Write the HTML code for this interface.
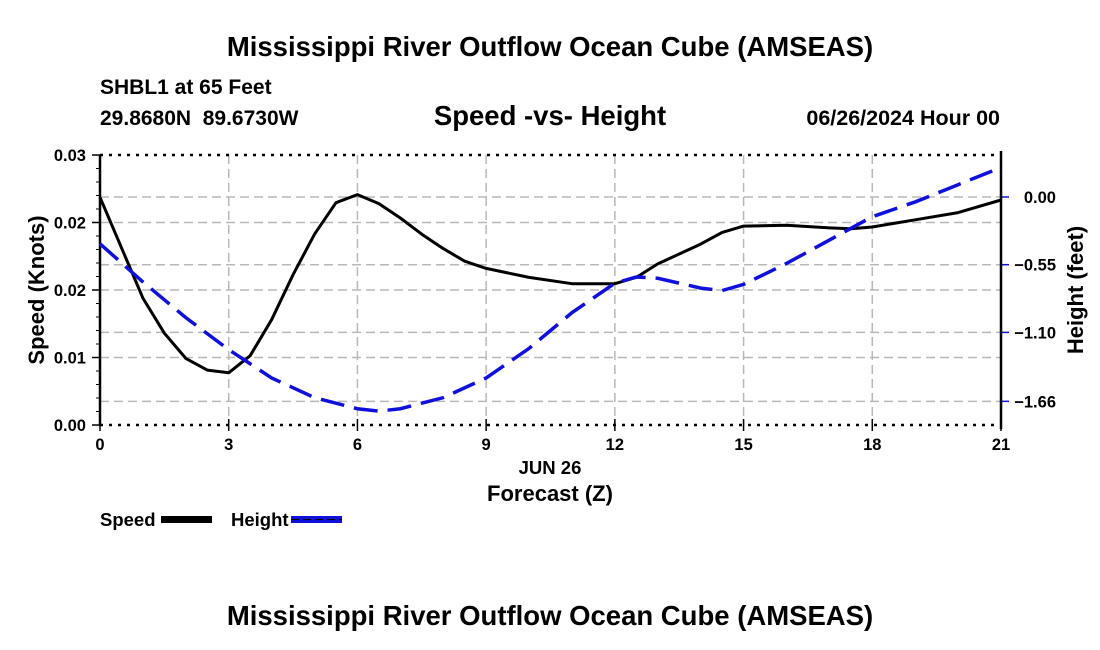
<!DOCTYPE html>
<html><head><meta charset="utf-8"><style>
body{margin:0;background:#fff;}
svg{display:block;font-family:"Liberation Sans",sans-serif;font-weight:bold;}
</style></head><body>
<svg id="chart" width="1100" height="650" viewBox="0 0 1100 650">
<text x="550" y="56" text-anchor="middle" font-size="27.5">Mississippi River Outflow Ocean Cube (AMSEAS)</text>
<text x="100" y="94" font-size="21">SHBL1 at 65 Feet</text>
<text x="100" y="125" font-size="21" xml:space="preserve">29.8680N  89.6730W</text>
<text x="550" y="125" text-anchor="middle" font-size="27.5">Speed -vs- Height</text>
<text x="1000" y="125" text-anchor="end" font-size="21.5">06/26/2024 Hour 00</text>
<g id="grid"></g>
<g id="axes"></g>
<g id="series"></g>
<text x="550" y="474" text-anchor="middle" font-size="18.5">JUN 26</text>
<text x="550" y="501" text-anchor="middle" font-size="22">Forecast (Z)</text>
<text transform="translate(44,290) rotate(-90)" text-anchor="middle" font-size="22">Speed (Knots)</text>
<text transform="translate(1083,290) rotate(-90)" text-anchor="middle" font-size="22">Height (feet)</text>
<g>
<text x="100" y="526" font-size="18.5">Speed</text>
<rect x="161" y="516" width="51" height="7" fill="#000"/>
</g>
<g>
<text x="231" y="526" font-size="18.5">Height</text>
<rect x="291" y="516" width="51" height="7" fill="#1010dd"/>
<line x1="291" y1="519.5" x2="342" y2="519.5" stroke="#000" stroke-width="1" stroke-dasharray="8,4"/>
</g>
<text x="550" y="625" text-anchor="middle" font-size="27.5">Mississippi River Outflow Ocean Cube (AMSEAS)</text>
</svg>
<script>
const speedHours=[0,0.5,1,1.5,2,2.5,3,3.5,4,4.5,5,5.5,6,6.5,7,7.5,8,8.5,9,10,11,12,12.5,13,14,14.5,15,16,17,17.5,18,19,20,21];
const speedValues=[0.0253,0.0197,0.0141,0.0102,0.0074,0.0061,0.0058,0.0077,0.0117,0.0167,0.0212,0.0247,0.0256,0.0246,0.0230,0.0212,0.0196,0.0182,0.0174,0.0164,0.0157,0.0157,0.0164,0.0179,0.0201,0.0214,0.0221,0.0222,0.0219,0.0218,0.0220,0.0228,0.0236,0.0250];
const heightHours=[0,1,2,3,4,5,6,6.5,7,8,9,10,11,12,12.5,13,14,14.5,15,16,17,18,19,20,21];
const heightValues=[-0.38,-0.69,-0.98,-1.24,-1.47,-1.63,-1.72,-1.74,-1.72,-1.63,-1.47,-1.23,-0.94,-0.70,-0.65,-0.66,-0.74,-0.76,-0.71,-0.54,-0.35,-0.16,-0.04,0.10,0.24];
const xTicks=[0,3,6,9,12,15,18,21];
const leftTicks=[0,0.0075,0.015,0.0225,0.03];
const leftTickLabels=["0.00","0.01","0.02","0.02","0.03"];
const rightTicks=[0,-0.55,-1.10,-1.66];
const rightTickLabels=["0.00","\u22120.55","\u22121.10","\u22121.66"];

const L=100,R=1001,T=155,B=425;
const xS=h=>L+h/21*(R-L);
const yS=v=>B-v/0.03*(B-T);
const yH=v=>197-v*(67.7/0.55);
const NS="http://www.w3.org/2000/svg";
function mk(tag,attrs,parent){const e=document.createElementNS(NS,tag);for(const k in attrs)e.setAttribute(k,attrs[k]);parent.appendChild(e);return e;}
const grid=document.getElementById('grid'),axes=document.getElementById('axes'),ser=document.getElementById('series');
const gs={stroke:"#b8b8b8","stroke-width":1.5,"stroke-dasharray":"9,5"};
xTicks.forEach((t,i)=>{
  if(i>0&&i<xTicks.length-1){const g=mk('line',Object.assign({x1:xS(t),x2:xS(t),y1:T,y2:B},gs),grid);
  
  }
  const tk=mk('line',{x1:xS(t),x2:xS(t),y1:B-6,y2:B+6,stroke:"#000","stroke-width":1.5},axes);
  
  
  const lb=mk('text',{x:xS(t),y:B+25,"text-anchor":"middle","font-size":16.5},axes);lb.textContent=t;
  
  
});
leftTicks.forEach((v,i)=>{
  if(i>0&&i<leftTicks.length-1){const g=mk('line',Object.assign({x1:L,x2:R,y1:yS(v),y2:yS(v)},gs),grid);
  
  }
  mk('line',{x1:L-8,x2:L,y1:yS(v),y2:yS(v),stroke:"#000","stroke-width":1.5},axes);
  const lb=mk('text',{x:L-14,y:yS(v)+6,"text-anchor":"end","font-size":16.5},axes);lb.textContent=leftTickLabels[i];
  
  
});
for(let k=1;k<20;k++){if(k%5)mk('line',{x1:L-4,x2:L,y1:B-k*(B-T)/20,y2:B-k*(B-T)/20,stroke:"#000","stroke-width":1},axes);}
rightTicks.forEach((v,i)=>{
  const g=mk('line',Object.assign({x1:L,x2:R,y1:yH(v),y2:yH(v)},gs),grid);
  
  
  mk('line',{x1:R,x2:R+8,y1:yH(v),y2:yH(v),stroke:"#1010dd","stroke-width":1.5},axes);
  const lb=mk('text',{x:1056,y:yH(v)+6,"text-anchor":"end","font-size":16.5},axes);lb.textContent=rightTickLabels[i];
  
  
});
mk('line',{x1:L,x2:R,y1:T,y2:T,stroke:"#000","stroke-width":2.5,"stroke-dasharray":"3,6"},axes);
mk('line',{x1:L,x2:R,y1:B,y2:B,stroke:"#000","stroke-width":2.5,"stroke-dasharray":"3,6"},axes);
mk('line',{x1:L,x2:L,y1:T,y2:B+1,stroke:"#000","stroke-width":2.5},axes);
mk('line',{x1:R,x2:R,y1:T-4,y2:B+4,stroke:"#000","stroke-width":2.5},axes);
const sp=mk('polyline',{points:speedHours.map((h,i)=>xS(h)+","+yS(speedValues[i])).join(" "),fill:"none",stroke:"#000","stroke-width":3,"stroke-linejoin":"round"},ser);


const hp=mk('polyline',{points:heightHours.map((h,i)=>xS(h)+","+yH(heightValues[i])).join(" "),fill:"none",stroke:"#1010dd","stroke-width":3.5,"stroke-dasharray":"24,10"},ser);


</script>
</body></html>
